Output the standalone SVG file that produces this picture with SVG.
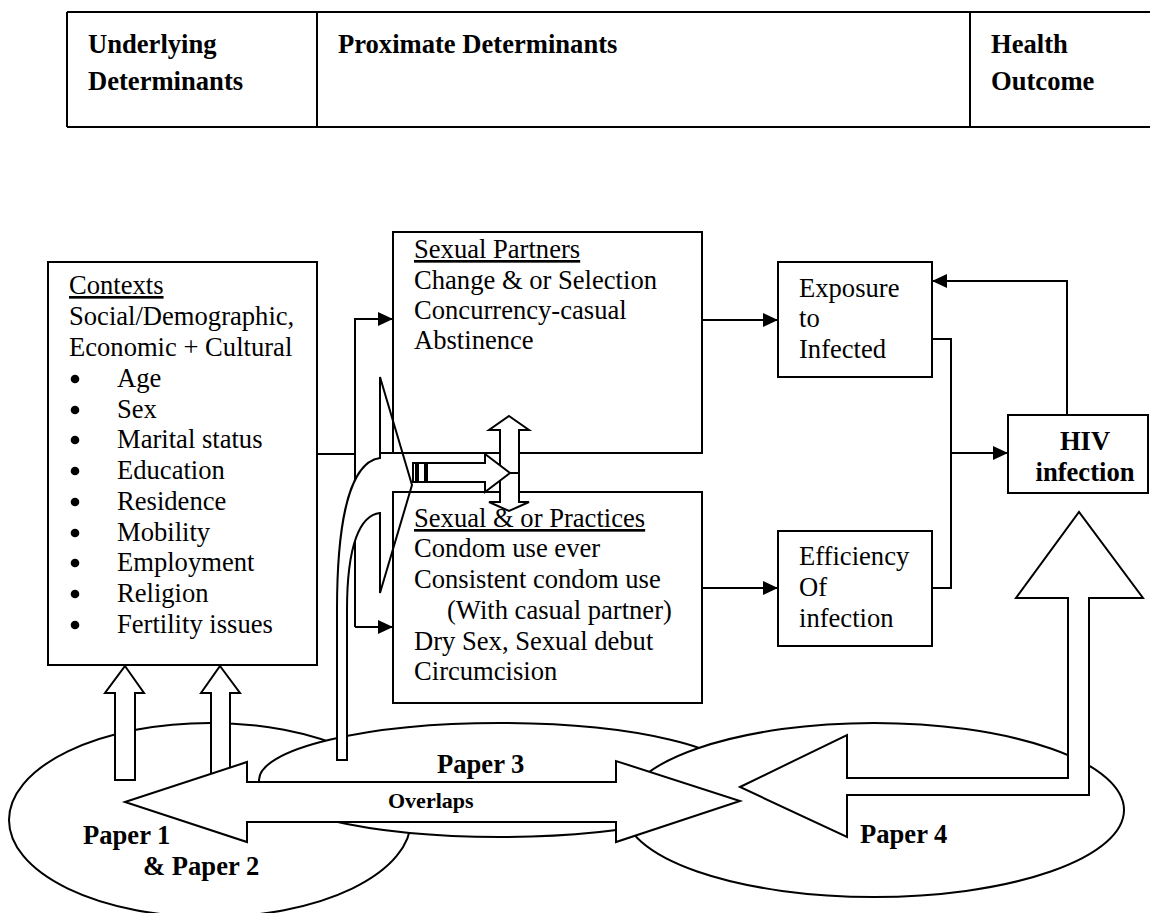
<svg xmlns="http://www.w3.org/2000/svg" width="1150" height="913" viewBox="0 0 1150 913">
<style>
.ln{fill:none;stroke:#000;stroke-width:2}
.sh{fill:#fff;stroke:#000;stroke-width:2;stroke-linejoin:miter}
.bx{fill:none;stroke:#000;stroke-width:2}
.t{font-family:"Liberation Serif","Times New Roman",serif;font-size:26.6px;fill:#000}
.b{font-family:"Liberation Serif","Times New Roman",serif;font-size:26.6px;font-weight:bold;fill:#000}
.u{text-decoration:underline}
</style>
<defs>
<marker id="ah" markerUnits="userSpaceOnUse" markerWidth="16" markerHeight="14" refX="15" refY="7" orient="auto">
<path d="M0,0 L15,7 L0,14 Z" fill="#000"/>
</marker>
</defs>
<rect width="1150" height="913" fill="#fff"/>

<g id="header">
<path class="ln" d="M67,12 H1150 M67,127 H1150 M67,12 V127 M317,12 V127 M970,12 V127" stroke-width="2.5"/>
<text class="b" x="88" y="53">Underlying</text>
<text class="b" x="88" y="90">Determinants</text>
<text class="b" x="338" y="53">Proximate Determinants</text>
<text class="b" x="991" y="53">Health</text>
<text class="b" x="991" y="90">Outcome</text>
</g>

<g id="paper1"><ellipse class="sh" cx="210" cy="820" rx="201" ry="97"/></g>
<g id="paper3"><ellipse class="sh" cx="500" cy="780" rx="241" ry="57"/></g>
<g id="paper4"><ellipse class="sh" cx="874" cy="810" rx="250" ry="87"/></g>

<g id="paper1-arrows">
<polygon class="sh" points="125,666 144,693 135,693 135,780 115,780 115,693 105,693"/>
<polygon class="sh" points="220,666 240,693 230,693 230,792 211,792 211,693 201,693"/>
</g>

<g id="connectors">
<path class="ln" d="M317,454 H355"/>
<path class="ln" d="M355,627 V319 H393" marker-end="url(#ah)"/>
<path class="ln" d="M355,627 H393" marker-end="url(#ah)"/>
<path class="ln" d="M702,320 H778" marker-end="url(#ah)"/>
<path class="ln" d="M702,588 H778" marker-end="url(#ah)"/>
<path class="ln" d="M932,339 H951 V588 H932"/>
<path class="ln" d="M951,453 H1008" marker-end="url(#ah)"/>
<path class="ln" d="M1067,415 V281 H932" marker-end="url(#ah)"/>
</g>

<g id="paper3-arrow">
<path class="sh" d="M337,760 L337,610 C337,520 350,462 380,458 L380,377 L412,485 L380,593 L380,513 C360,515 347,545 347,610 L347,760 Z"/>
</g>

<g id="contexts">
<rect class="bx" x="48" y="262" width="269" height="403"/>
<text class="t u" x="69" y="294">Contexts</text>
<text class="t" x="69" y="325">Social/Demographic,</text>
<text class="t" x="69" y="356">Economic + Cultural</text>
<g fill="#000">
<circle cx="75" cy="379" r="4.3"/>
<circle cx="75" cy="410" r="4.3"/>
<circle cx="75" cy="440" r="4.3"/>
<circle cx="75" cy="471" r="4.3"/>
<circle cx="75" cy="502" r="4.3"/>
<circle cx="75" cy="533" r="4.3"/>
<circle cx="75" cy="563" r="4.3"/>
<circle cx="75" cy="594" r="4.3"/>
<circle cx="75" cy="625" r="4.3"/>
</g>
<g class="t">
<text x="117" y="387">Age</text>
<text x="117" y="418">Sex</text>
<text x="117" y="448">Marital status</text>
<text x="117" y="479">Education</text>
<text x="117" y="510">Residence</text>
<text x="117" y="541">Mobility</text>
<text x="117" y="571">Employment</text>
<text x="117" y="602">Religion</text>
<text x="117" y="633">Fertility issues</text>
</g>
</g>

<g id="partners">
<rect class="bx" x="393" y="232" width="309" height="221"/>
<text class="t u" x="414" y="258">Sexual Partners</text>
<text class="t" x="414" y="289">Change &amp; or Selection</text>
<text class="t" x="414" y="319">Concurrency-casual</text>
<text class="t" x="414" y="349">Abstinence</text>
</g>

<g id="practices">
<rect class="bx" x="393" y="492" width="309" height="211"/>
<text class="t u" x="414" y="527">Sexual &amp; or Practices</text>
<text class="t" x="414" y="557">Condom use ever</text>
<text class="t" x="414" y="588">Consistent condom use</text>
<text class="t" x="447" y="619">(With casual partner)</text>
<text class="t" x="414" y="650">Dry Sex, Sexual debut</text>
<text class="t" x="414" y="680">Circumcision</text>
</g>

<g id="exposure">
<rect class="bx" x="778" y="262" width="154" height="115"/>
<text class="t" x="799" y="297">Exposure</text>
<text class="t" x="799" y="327">to</text>
<text class="t" x="799" y="358">Infected</text>
</g>

<g id="efficiency">
<rect class="bx" x="778" y="531" width="154" height="115"/>
<text class="t" x="799" y="565">Efficiency</text>
<text class="t" x="799" y="596">Of</text>
<text class="t" x="799" y="627">infection</text>
</g>

<g id="hiv">
<rect class="bx" x="1008" y="415" width="140" height="78"/>
<text class="b" x="1085" y="450" text-anchor="middle">HIV</text>
<text class="b" x="1085" y="481" text-anchor="middle">infection</text>
</g>

<g id="link-arrows">
<path class="ln" d="M380,453 H393"/>
<polygon class="sh" points="509,416 529,430 519,430 519,502 529,502 509,511 489,502 500,502 500,430 489,430"/>
<polygon class="sh" points="427,463 485,463 485,454 510,473 485,492 485,482 427,482"/>
<rect class="sh" x="413" y="463" width="3" height="19"/>
<rect class="sh" x="418" y="463" width="7" height="19"/>
<path class="ln" d="M510,473 H519"/>
</g>

<g id="overlaps">
<polygon class="sh" points="125,802 247,762 247,782 616,782 616,761 740,801 616,842 616,822 247,822 247,842"/>
<text class="b" x="388" y="808" style="font-size:22px">Overlaps</text>
</g>

<g id="paper4-arrow">
<polygon class="sh" points="740,787 847,735 847,778 1068,778 1068,598 1016,598 1079,512 1143,598 1089,598 1089,795 847,795 847,837"/>
</g>

<g id="paper-labels">
<text class="b" x="437" y="773">Paper 3</text>
<text class="b" x="83" y="844">Paper 1</text>
<text class="b" x="143" y="875">&amp; Paper 2</text>
<text class="b" x="860" y="843">Paper 4</text>
</g>
</svg>
